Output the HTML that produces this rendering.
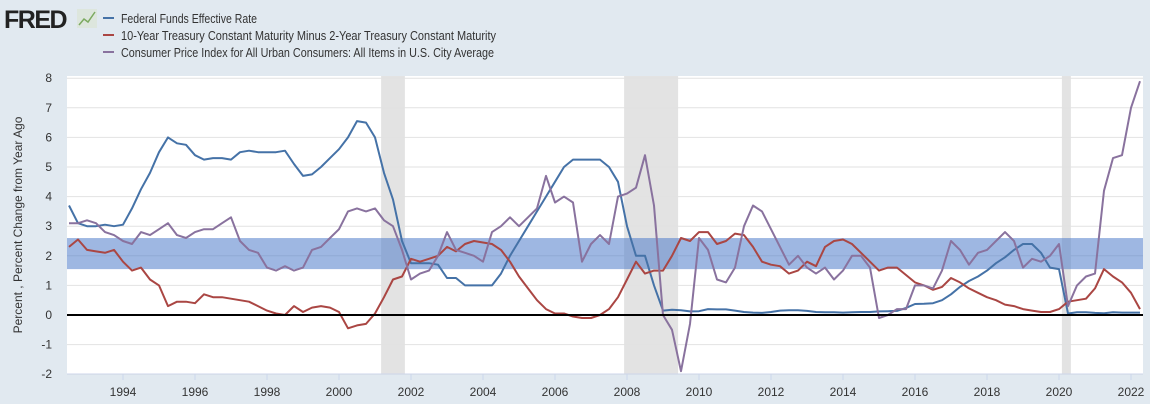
<!DOCTYPE html>
<html><head><meta charset="utf-8"><style>
body{margin:0;background:#e1e9f0;font-family:"Liberation Sans",sans-serif;}
svg{display:block}
</style></head><body>
<svg width="1150" height="404" xmlns="http://www.w3.org/2000/svg">
<rect width="1150" height="404" fill="#e1e9f0"/>
<g>
<text x="4" y="28" font-size="25" font-weight="bold" fill="#222" letter-spacing="-1.5">FRED</text>
<rect x="77" y="9" width="20" height="19" fill="#dde6dd"/>
<polyline points="79,25 84,19 88,22 95,12" fill="none" stroke="#7caa60" stroke-width="1.5"/>
</g>
<g font-size="13" fill="#333">
<line x1="103" y1="18" x2="114" y2="18" stroke="#4572a7" stroke-width="2"/>
<text x="121" y="23" textLength="136" lengthAdjust="spacingAndGlyphs">Federal Funds Effective Rate</text>
<line x1="103" y1="35" x2="114" y2="35" stroke="#aa4643" stroke-width="2"/>
<text x="121" y="40" textLength="375" lengthAdjust="spacingAndGlyphs">10-Year Treasury Constant Maturity Minus 2-Year Treasury Constant Maturity</text>
<line x1="103" y1="52" x2="114" y2="52" stroke="#89729e" stroke-width="2"/>
<text x="121" y="57" textLength="373" lengthAdjust="spacingAndGlyphs">Consumer Price Index for All Urban Consumers: All Items in U.S. City Average</text>
</g>
<rect x="67" y="76" width="1076" height="298" fill="#fff"/>
<g id="rec"></g>
<g id="grid"></g>
<rect id="band" fill="#4f7ccb" opacity="0.55"/>
<g id="series"></g>
<g id="axes"></g>
<text transform="translate(22,225) rotate(-90)" text-anchor="middle" font-size="12" fill="#333">Percent , Percent Change from Year Ago</text>
</svg>
<script>
const startYear = 1992.5, step = 0.25;
const fedFunds = [3.7,3.1,3.0,3.0,3.05,3.0,3.05,3.6,4.25,4.8,5.5,6.0,5.8,5.75,5.4,5.25,5.3,5.3,5.25,5.5,5.55,5.5,5.5,5.5,5.55,5.1,4.7,4.75,5.0,5.3,5.6,6.0,6.55,6.5,6.0,4.8,3.9,2.5,1.75,1.75,1.75,1.7,1.25,1.25,1.0,1.0,1.0,1.0,1.4,2.0,2.5,3.0,3.5,4.0,4.5,5.0,5.25,5.25,5.25,5.25,5.0,4.5,3.0,2.0,2.0,1.0,0.15,0.18,0.16,0.12,0.13,0.2,0.19,0.19,0.15,0.1,0.08,0.07,0.1,0.15,0.16,0.16,0.14,0.1,0.09,0.09,0.08,0.09,0.1,0.1,0.12,0.13,0.14,0.24,0.37,0.38,0.4,0.5,0.7,0.95,1.15,1.3,1.5,1.75,1.95,2.2,2.4,2.4,2.1,1.6,1.55,0.05,0.09,0.09,0.07,0.06,0.09,0.08,0.08,0.08];
const spread = [2.3,2.55,2.2,2.15,2.1,2.2,1.8,1.5,1.6,1.2,1.0,0.3,0.45,0.45,0.4,0.7,0.6,0.6,0.55,0.5,0.45,0.3,0.15,0.05,0.0,0.3,0.1,0.25,0.3,0.25,0.1,-0.45,-0.35,-0.3,0.05,0.6,1.2,1.3,1.9,1.8,1.9,2.0,2.3,2.15,2.4,2.5,2.45,2.4,2.2,1.8,1.3,0.9,0.5,0.2,0.05,0.05,-0.05,-0.1,-0.1,0.0,0.2,0.6,1.2,1.8,1.4,1.5,1.5,2.0,2.6,2.5,2.8,2.8,2.4,2.5,2.75,2.7,2.3,1.8,1.7,1.65,1.4,1.5,1.8,1.65,2.3,2.5,2.55,2.4,2.1,1.8,1.5,1.6,1.6,1.35,1.1,1.0,0.85,0.95,1.25,1.1,0.9,0.75,0.6,0.5,0.35,0.3,0.2,0.15,0.1,0.1,0.2,0.45,0.5,0.55,0.9,1.55,1.3,1.1,0.75,0.2];
const cpi = [3.1,3.1,3.2,3.1,2.8,2.7,2.5,2.4,2.8,2.7,2.9,3.1,2.7,2.6,2.8,2.9,2.9,3.1,3.3,2.5,2.2,2.1,1.6,1.5,1.65,1.5,1.6,2.2,2.3,2.6,2.9,3.5,3.6,3.5,3.6,3.2,3.0,2.2,1.2,1.4,1.5,2.0,2.8,2.2,2.1,2.0,1.8,2.8,3.0,3.3,3.0,3.3,3.6,4.7,3.8,4.0,3.8,1.8,2.4,2.7,2.4,4.0,4.1,4.3,5.4,3.7,0.0,-0.5,-1.9,-0.3,2.6,2.2,1.2,1.1,1.6,3.0,3.7,3.5,2.9,2.3,1.7,2.0,1.6,1.4,1.6,1.2,1.5,2.0,2.0,1.6,-0.1,0.0,0.2,0.2,1.0,1.0,0.9,1.5,2.5,2.2,1.7,2.1,2.2,2.5,2.8,2.5,1.6,1.9,1.8,2.0,2.4,0.3,1.0,1.3,1.4,4.2,5.3,5.4,7.0,7.9];
const yTicks = [-2,-1,0,1,2,3,4,5,6,7,8];
const xTicks = [1994,1996,1998,2000,2002,2004,2006,2008,2010,2012,2014,2016,2018,2020,2022];
const recessionStarts = [2001.17,2007.92,2020.08];
const recessionEnds = [2001.83,2009.42,2020.33];
const bandRange = [1.55,2.6];

const NS="http://www.w3.org/2000/svg";
const X = t => 123 + (t-1994)*36;
const Y = v => 315 - v*29.6;
function mk(tag, attrs, parent){const e=document.createElementNS(NS,tag);for(const k in attrs)e.setAttribute(k,attrs[k]);parent.appendChild(e);return e;}
const rec=document.getElementById('rec'), grid=document.getElementById('grid'), ser=document.getElementById('series'), ax=document.getElementById('axes');
recessionStarts.forEach((s,i)=>{
  const r=mk('rect',{x:X(s),y:76,width:X(recessionEnds[i])-X(s),height:298,fill:'#e3e3e3'},rec);
  
  
});
yTicks.forEach(v=>{
  const l=mk('line',{x1:67,x2:1143,y1:Y(v),y2:Y(v),stroke:'#e2e2e2','stroke-width':1},grid);
  
  
  const t=mk('text',{x:52,y:Y(v)+4,'text-anchor':'end','font-size':12,fill:'#333'},ax);
  t.textContent=v;
  
  
});
const band=document.getElementById('band');
band.setAttribute('x',67);band.setAttribute('width',1076);
band.setAttribute('y',Y(bandRange[1]));band.setAttribute('height',Y(bandRange[0])-Y(bandRange[1]));
const bl=mk('line',{x1:67,x2:1143,y1:374,y2:374,stroke:'#ccd6eb','stroke-width':1},ax);


xTicks.forEach(y=>{
  const tk=mk('line',{x1:X(y),x2:X(y),y1:374,y2:380,stroke:'#ccd6eb'},ax);
  
  
  const t=mk('text',{x:X(y),y:396,'text-anchor':'middle','font-size':12,fill:'#333'},ax);
  t.textContent=y;
  
  
});
function line(arr,color,name){
  const pts=arr.map((v,i)=>X(startYear+i*step).toFixed(1)+','+Y(v).toFixed(1)).join(' ');
  const p=mk('polyline',{points:pts,fill:'none',stroke:color,'stroke-width':2,'stroke-linejoin':'round'},ser);
  
  
}
line(fedFunds,'#4572a7','fed-funds-line');
line(spread,'#aa4643','t10y2y-line');
line(cpi,'#89729e','cpi-line');
const z=mk('line',{x1:67,x2:1143,y1:Y(0),y2:Y(0),stroke:'#000','stroke-width':2},ser);


</script>
</body></html>
